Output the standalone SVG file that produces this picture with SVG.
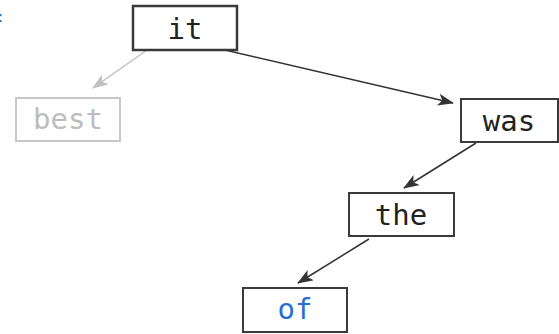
<svg xmlns="http://www.w3.org/2000/svg" width="559" height="334" viewBox="0 0 559 334">
<defs>
<style>
.box{fill:#fff;stroke:#3a3a3a;stroke-width:2}
.dim{fill:#fff;stroke:#c8c8c8;stroke-width:2}
.t{font-family:"DejaVu Sans Mono","Liberation Mono",monospace;font-size:29px;text-anchor:middle;fill:#222}
.edge{stroke:#333;stroke-width:1.5;fill:none;marker-end:url(#ah)}
.edge-dim{stroke:#c0c0c0;stroke-width:1.5;fill:none;marker-end:url(#ahd)}
</style>
<marker id="ah" viewBox="0 0 16 12" refX="15" refY="6" markerWidth="16" markerHeight="12" markerUnits="userSpaceOnUse" orient="auto">
<path d="M0,0 L16,6 L0,12 L4,6 Z" fill="#333"/>
</marker>
<marker id="ahd" viewBox="0 0 16 12" refX="15" refY="6" markerWidth="16" markerHeight="12" markerUnits="userSpaceOnUse" orient="auto">
<path d="M0,0 L16,6 L0,12 L4,6 Z" fill="#c0c0c0"/>
</marker>
</defs>
<rect width="559" height="334" fill="#fff"/>
<text class="t" x="-5" y="36" style="fill:#2a6fd0">f</text>
<g id="connectors">
<line class="edge-dim" x1="147" y1="50" x2="93" y2="88"/>
<line class="edge" x1="225" y1="50" x2="453" y2="103"/>
<line class="edge" x1="476" y1="143" x2="404" y2="188"/>
<line class="edge" x1="369" y1="239" x2="298" y2="283"/>
</g>
<g id="node-it">
<rect class="box" x="133" y="6" width="104" height="44" style="stroke-width:2.5"/>
<text class="t" x="185" y="39">it</text>
</g>
<g id="node-best">
<rect class="dim" x="16" y="98" width="104" height="43"/>
<text class="t" x="68" y="129" style="fill:#bdbdbd">best</text>
</g>
<g id="node-was">
<rect class="box" x="461" y="99" width="97" height="43"/>
<text class="t" x="509" y="131">was</text>
</g>
<g id="node-the">
<rect class="box" x="349" y="193" width="105" height="43"/>
<text class="t" x="401" y="225">the</text>
</g>
<g id="node-of">
<rect class="box" x="243" y="288" width="104" height="44"/>
<text class="t" x="295" y="319" style="fill:#2a6fd0">of</text>
</g>
</svg>
